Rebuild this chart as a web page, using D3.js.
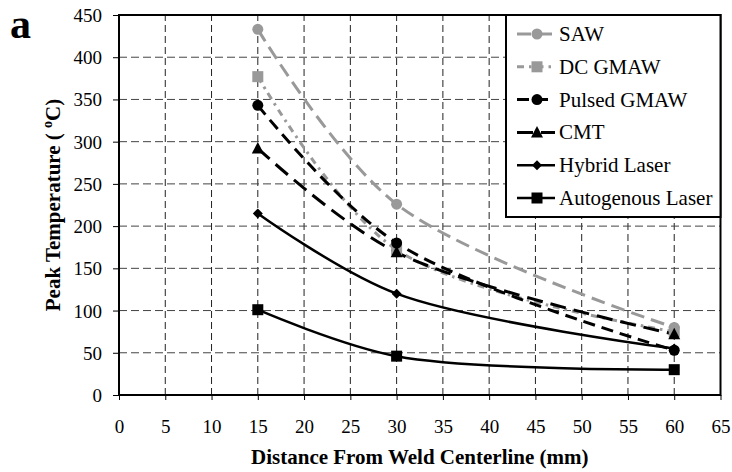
<!DOCTYPE html>
<html><head><meta charset="utf-8">
<script src="https://cdn.jsdelivr.net/npm/d3@7/dist/d3.min.js"></script>
<style>body{margin:0;background:#fff}svg{display:block}</style>
</head><body><svg id="c" width="732" height="472" font-family="'Liberation Serif', 'Times New Roman', serif"></svg>
<script>
const distances = [15, 30, 60];
const seriesNames = ["SAW", "DC GMAW", "Pulsed GMAW", "CMT", "Hybrid Laser", "Autogenous Laser"];
const sawValues = [433, 226, 80];
const dcGmawValues = [377, 172, 75];
const pulsedGmawValues = [343, 180, 53];
const cmtValues = [292, 169, 72];
const hybridLaserValues = [215, 120, 55];
const autogenousLaserValues = [101, 46, 30];
const xTicks = [0,5,10,15,20,25,30,35,40,45,50,55,60,65];
const yTicks = [0,50,100,150,200,250,300,350,400,450];

const FONT = "'Liberation Serif', 'Times New Roman', serif";
const grey = "#999999";
const styles = [
  {color: grey, dash: "14,7", width: 3, marker: "circle"},
  {color: grey, dash: "7,5,2.5,5", width: 3, marker: "square"},
  {color: "#000", dash: "12,7", width: 3, marker: "circle"},
  {color: "#000", dash: "16,8", width: 3, marker: "triangle"},
  {color: "#000", dash: null, width: 2.5, marker: "diamond"},
  {color: "#000", dash: null, width: 2.5, marker: "square"}
];
const allValues = [sawValues, dcGmawValues, pulsedGmawValues, cmtValues, hybridLaserValues, autogenousLaserValues];

const svg = d3.select("#c");
const x = d3.scaleLinear().domain([0, 65]).range([119, 720.5]);
const y = d3.scaleLinear().domain([0, 450]).range([395, 15]);

// grid
const g = svg.append("g");
g.selectAll(".vg").data(xTicks.slice(1, -1)).join("line")
  .attr("x1", d => x(d)).attr("x2", d => x(d)).attr("y1", y(0)).attr("y2", y(450))
  .attr("stroke", "#222").attr("stroke-width", 1).attr("stroke-dasharray", "7,4");
g.selectAll(".hg").data(yTicks.slice(1, -1)).join("line")
  .attr("x1", x(0)).attr("x2", x(65)).attr("y1", d => y(d)).attr("y2", d => y(d))
  .attr("stroke", "#444").attr("stroke-width", 1).attr("stroke-dasharray", "8,4");

// axes
const xAxis = svg.append("g").attr("transform", `translate(0,${y(0)})`)
  .call(d3.axisBottom(x).tickValues(xTicks).tickSize(5).tickFormat(d3.format("d")))
  .attr("font-family", FONT).attr("font-size", 19);
xAxis.select(".domain").remove();
xAxis.selectAll("text").attr("y", 38).attr("dy", 0).attr("fill", "#000");
xAxis.selectAll("line").attr("stroke", "#000");

const yAxis = svg.append("g").attr("transform", `translate(${x(0)},0)`)
  .call(d3.axisLeft(y).tickValues(yTicks).tickSize(6).tickFormat(d3.format("d")))
  .attr("font-family", FONT).attr("font-size", 19);
yAxis.select(".domain").remove();
yAxis.selectAll("text").attr("x", -17).attr("dy", "0.34em").attr("fill", "#000");
yAxis.selectAll("line").attr("stroke", "#000");

svg.append("rect").attr("x", x(0)).attr("y", y(450)).attr("width", x(65) - x(0)).attr("height", y(0) - y(450))
  .attr("fill", "none").attr("stroke", "#000").attr("stroke-width", 2);

// markers
function drawMarker(sel, type, cx, cy, color) {
  if (type === "circle") sel.append("circle").attr("cx", cx).attr("cy", cy).attr("r", 5.5).attr("fill", color);
  else if (type === "square") sel.append("rect").attr("x", cx - 5.5).attr("y", cy - 5.5).attr("width", 11).attr("height", 11).attr("fill", color);
  else if (type === "triangle") sel.append("path").attr("d", `M${cx},${cy-6.5}L${cx+6},${cy+5}L${cx-6},${cy+5}Z`).attr("fill", color);
  else if (type === "diamond") sel.append("path").attr("d", `M${cx},${cy-5}L${cx+5},${cy}L${cx},${cy+5}L${cx-5},${cy}Z`).attr("fill", color);
}

const line = d3.line().x(d => x(d[0])).y(d => y(d[1])).curve(d3.curveCatmullRom.alpha(0.5));
const lg = svg.append("g");
allValues.forEach((vals, i) => {
  const st = styles[i];
  const pts = distances.map((d, j) => [d, vals[j]]);
  lg.append("path").attr("d", line(pts)).attr("fill", "none").attr("stroke", st.color)
    .attr("stroke-width", st.width).attr("stroke-dasharray", st.dash);
});
allValues.forEach((vals, i) => {
  const st = styles[i];
  distances.forEach((d, j) => drawMarker(lg, st.marker, x(d), y(vals[j]), st.color));
});

// legend
const leg = svg.append("g");
leg.append("rect").attr("x", 506).attr("y", 15).attr("width", 214.5).attr("height", 202)
  .attr("fill", "#fff").attr("stroke", "#000").attr("stroke-width", 2);
seriesNames.forEach((name, i) => {
  const st = styles[i];
  const cy = 34 + i * 32.8;
  leg.append("line").attr("x1", 517).attr("x2", 555).attr("y1", cy).attr("y2", cy)
    .attr("stroke", st.color).attr("stroke-width", st.width).attr("stroke-dasharray", st.dash);
  drawMarker(leg, st.marker, 537, cy, st.color);
  leg.append("text").attr("x", 559).attr("y", cy + 7).attr("font-size", 21).attr("font-family", FONT).text(name);
});

// titles
svg.append("text").attr("x", 419.8).attr("y", 464).attr("text-anchor", "middle").attr("font-family", FONT)
  .attr("font-size", 21).attr("font-weight", "bold").text("Distance From Weld Centerline (mm)");
const yt = svg.append("text").attr("transform", "translate(60,205) rotate(-90)").attr("text-anchor", "middle")
  .attr("font-family", FONT).attr("font-size", 21).attr("font-weight", "bold");
yt.append("tspan").text("Peak Temperature ( ");
yt.append("tspan").attr("font-size", 14).attr("dy", -8).text("o");
yt.append("tspan").attr("dy", 8).text("C)");
svg.append("text").attr("x", 10).attr("y", 38).attr("font-family", FONT).attr("font-size", 42).attr("font-weight", "bold").text("a");
</script></body></html>
